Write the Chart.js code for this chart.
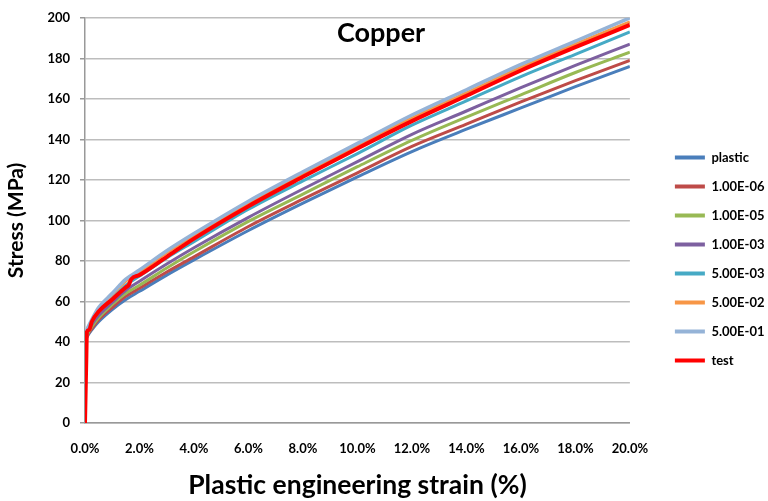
<!DOCTYPE html>
<html>
<head>
<meta charset="utf-8">
<script src="https://cdn.jsdelivr.net/npm/chart.js@4/dist/chart.umd.min.js"></script>
<style>
  html, body { margin: 0; padding: 0; background: #fff; }
  #wrap { width: 768px; height: 501px; }
</style>
</head>
<body>
<div id="wrap"><canvas id="chart" width="768" height="501"></canvas></div>
<script>
// strain (%) for the model curves
const strain = [0, 0.1, 0.25, 0.5, 1, 1.5, 2, 3, 4, 6, 8, 10, 12, 14, 16, 18, 20];

const plastic = [40, 43, 46, 50, 56, 61, 65, 73, 80.5, 95, 108.5, 121.5, 134, 145, 155.5, 166, 176];
const e106 = [40.5, 43.5, 46.5, 51, 57, 62.5, 66.5, 74.5, 82, 97, 110.5, 123.5, 136.5, 147.5, 158.5, 169, 179];
const e105 = [41, 44, 47.5, 52, 58.5, 64, 68, 76.5, 84.5, 99.5, 113, 126.5, 139.5, 151, 162, 173, 183];
const e103 = [41.5, 45, 48.5, 53, 59.5, 65.5, 70, 78.5, 86.5, 101.5, 115.5, 129, 142.5, 154, 165.5, 176.5, 187];
const e503 = [42, 46, 49.5, 55, 61.5, 68, 72.5, 81.5, 89.5, 105.5, 119.5, 133, 147, 159, 171, 182, 193];
const e502 = [42.5, 46.5, 50.5, 56.5, 63.5, 70, 74.5, 84, 92.5, 108.5, 123, 137, 150.5, 163, 175.5, 187, 198];
const e501 = [43, 47, 51, 57, 64, 71, 75.5, 85, 93.5, 109.5, 124, 138, 152, 164.5, 177, 188.5, 200];

// measured test curve
const testStrain = [0, 0.03, 0.05, 0.07, 0.15, 0.25, 0.5, 1, 1.5, 1.6, 1.7, 2, 3, 4, 6, 8, 10, 12, 14, 16, 18, 20];
const testStress = [0, 20, 33, 45, 46, 50, 55, 61, 67, 68, 71, 73, 82, 91, 107, 121.5, 135.5, 149, 161.5, 174, 185.5, 196.5];

const xTickLabels = ['0.0%', '2.0%', '4.0%', '6.0%', '8.0%', '10.0%', '12.0%', '14.0%', '16.0%', '18.0%', '20.0%'];

const seriesNames = ['plastic', '1.00E-06', '1.00E-05', '1.00E-03', '5.00E-03', '5.00E-02', '5.00E-01', 'test'];
const seriesColors = ['#4a7ebb', '#be4b48', '#98b954', '#7d60a0', '#46aac5', '#f79646', '#95b3d7', '#ff0000'];

const FONT = 'Lato, "Open Sans", sans-serif';

function pts(xs, ys) {
  return xs.map((x, i) => ({ x: x, y: ys[i] }));
}

const modelSeries = [plastic, e106, e105, e103, e503, e502, e501];
const datasets = modelSeries.map((s, i) => ({
  label: seriesNames[i],
  data: pts(strain, s),
  borderColor: seriesColors[i],
  backgroundColor: seriesColors[i],
  borderWidth: i === 6 ? 3.5 : 3,
  order: 10 - i
}));
datasets.push({
  label: seriesNames[7],
  data: pts(testStrain, testStress),
  borderColor: seriesColors[7],
  backgroundColor: seriesColors[7],
  borderWidth: 4,
  tension: 0,
  order: 1
});

const titlePlugin = {
  id: 'innerTitle',
  afterDraw(chart) {
    const ctx = chart.ctx;
    ctx.save();
    ctx.font = 'bold 27px ' + FONT;
    ctx.fillStyle = '#000';
    ctx.textAlign = 'center';
    ctx.textBaseline = 'alphabetic';
    ctx.fillText('Copper', 381, 42);
    ctx.restore();
  }
};

new Chart(document.getElementById('chart'), {
  type: 'line',
  data: { datasets: datasets },
  plugins: [titlePlugin],
  options: {
    responsive: false,
    animation: false,
    layout: { padding: { top: 17, right: -6.5, bottom: 0, left: 0 } },
    elements: {
      point: { radius: 0 },
      line: { tension: 0.3, cubicInterpolationMode: 'monotone' }
    },
    scales: {
      x: {
        type: 'linear',
        min: 0,
        max: 20,
        ticks: {
          stepSize: 2,
          color: '#000',
          font: { family: FONT, size: 13, weight: 'bold' },
          padding: 13,
          maxRotation: 0,
          callback: (v, i) => xTickLabels[i]
        },
        grid: { display: false, drawTicks: true, tickLength: 5, tickColor: '#999' },
        border: { color: '#999', width: 1.5 },
        title: {
          display: true,
          text: 'Plastic engineering strain (%)',
          color: '#000',
          font: { family: FONT, size: 26.5, weight: 'bold' },
          padding: { top: 10, bottom: 0 }
        },
        afterFit: (s) => { s.height = 78; }
      },
      y: {
        min: 0,
        max: 200,
        ticks: {
          stepSize: 20,
          color: '#000',
          font: { family: FONT, size: 13, weight: 'bold' },
          padding: 10
        },
        grid: { color: '#bdbdbd', lineWidth: 1.5, tickLength: 5, tickColor: '#999' },
        border: { color: '#999', width: 1.5 },
        title: {
          display: true,
          text: 'Stress (MPa)',
          color: '#000',
          font: { family: FONT, size: 21, weight: 'bold' },
          padding: { bottom: 12 }
        },
        afterFit: (s) => { s.width = 85; }
      },
      gap: {
        position: 'right',
        display: true,
        ticks: { display: false },
        grid: { display: false, drawTicks: false },
        border: { display: false },
        afterFit: (s) => { s.width = 29; }
      }
    },
    plugins: {
      legend: {
        position: 'right',
        labels: {
          boxWidth: 30,
          boxHeight: 4,
          padding: 16,
          color: '#000',
          font: { family: FONT, size: 13, weight: 'bold' },
          sort: (a, b) => a.datasetIndex - b.datasetIndex,
          generateLabels: (chart) => Chart.defaults.plugins.legend.labels.generateLabels(chart)
            .map(l => Object.assign(l, { lineWidth: 0 }))
        }
      },
      tooltip: { enabled: false }
    }
  }
});
</script>
</body>
</html>
